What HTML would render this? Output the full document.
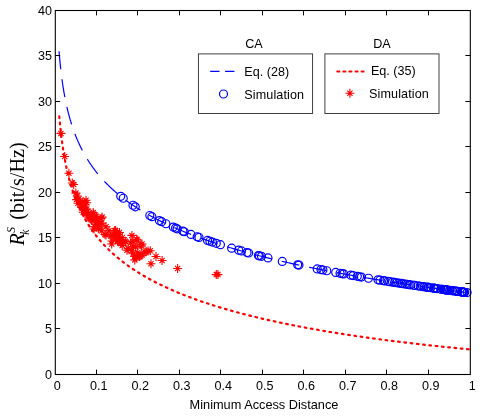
<!DOCTYPE html><html><head><meta charset="utf-8"><style>html,body{margin:0;padding:0;background:#fff}svg{display:block;will-change:transform}text{font-family:"Liberation Sans",sans-serif}</style></head><body>
<svg width="498" height="416" viewBox="0 0 498 416">
<rect width="498" height="416" fill="#fff"/>
<path d="M59.05,113.72 L59.24,115.91 L59.43,118.03 L59.61,120.09 L59.80,122.08 L59.99,124.00 L60.18,125.87 L60.36,127.68 L60.55,129.44 L60.74,131.14 L60.93,132.80 L61.11,134.42 L61.30,135.99 L61.49,137.52 L61.68,139.01 L61.87,140.46 L62.05,141.88 L62.24,143.26 L62.43,144.61 L62.62,145.93 L62.80,147.21 L62.99,148.47 L63.18,149.70 L63.37,150.91 L63.55,152.09 L63.74,153.25 L63.93,154.38 L64.12,155.49 L64.31,156.57 L64.49,157.64 L64.68,158.69 L64.87,159.71 L65.06,160.72 L65.24,161.71 L65.43,162.68 L65.62,163.64 L65.81,164.57 L65.99,165.50 L66.18,166.40 L66.37,167.30 L66.56,168.17 L66.75,169.04 L66.93,169.89 L67.12,170.72 L67.31,171.55 L67.50,172.36 L67.68,173.16 L67.87,173.95 L68.06,174.72 L68.25,175.49 L68.43,176.24 L68.62,176.99 L68.81,177.72 L69.00,178.44 L69.19,179.16 L69.37,179.86 L69.56,180.56 L69.75,181.24 L69.94,181.92 L70.12,182.59 L70.31,183.25 L70.50,183.90 L70.69,184.55 L70.87,185.18 L71.06,185.81 L71.25,186.43 L71.44,187.05 L71.63,187.66 L71.81,188.26 L72.00,188.85 L72.19,189.44 L72.38,190.02 L72.56,190.59 L72.75,191.16 L72.94,191.72 L73.13,192.28 L73.31,192.83 L73.50,193.37 L73.69,193.91 L73.88,194.45 L74.07,194.97 L74.25,195.50 L74.44,196.01 L74.63,196.53 L74.82,197.03 L75.00,197.54 L75.19,198.04 L75.38,198.53 L75.57,199.02 L75.75,199.50 L75.94,199.98 L76.13,200.46 L76.32,200.93 L76.51,201.39 L76.69,201.86 L76.88,202.31 L77.07,202.77 L77.26,203.22 L77.44,203.67 L77.63,204.11 L77.82,204.55 L78.01,204.98 L78.19,205.42 L78.38,205.84 L78.57,206.27 L78.76,206.69 L78.94,207.11 L79.13,207.52 L79.32,207.93 L79.51,208.34 L79.70,208.75 L79.88,209.15 L80.07,209.55 L80.26,209.94 L80.45,210.34 L80.63,210.73 L80.82,211.11 L81.01,211.50 L81.20,211.88 L81.38,212.26 L81.57,212.63 L81.76,213.00 L81.95,213.37 L82.14,213.74 L82.32,214.11 L82.51,214.47 L82.70,214.83 L82.89,215.19 L83.07,215.54 L83.26,215.89 L83.45,216.25 L83.64,216.59 L83.82,216.94 L84.01,217.28 L84.20,217.62 L84.39,217.96 L84.58,218.30 L84.76,218.63 L84.95,218.96 L85.14,219.29 L85.33,219.62 L85.51,219.95 L85.70,220.27 L85.89,220.59 L86.08,220.91 L86.26,221.23 L86.45,221.55 L86.64,221.86 L86.83,222.18 L87.02,222.49 L87.20,222.79 L87.39,223.10 L87.58,223.41 L87.77,223.71 L87.95,224.01 L88.14,224.31 L88.33,224.61 L88.52,224.90 L88.70,225.20 L88.89,225.49 L89.08,225.78 L89.27,226.07 L89.46,226.36 L89.64,226.65 L89.83,226.93 L90.02,227.21 L90.21,227.49 L90.39,227.77 L90.58,228.05 L90.77,228.33 L90.96,228.61 L91.14,228.88 L91.33,229.15 L91.52,229.42 L91.71,229.69 L91.90,229.96 L92.08,230.23 L92.27,230.49 L92.46,230.76 L92.65,231.02 L92.83,231.28 L93.02,231.54 L93.21,231.80 L93.40,232.06 L93.58,232.32 L93.77,232.57 L93.96,232.83 L94.15,233.08 L94.34,233.33 L94.52,233.58 L94.71,233.83 L94.90,234.08 L95.09,234.32 L95.27,234.57 L95.46,234.81 L95.65,235.06 L95.84,235.30 L96.02,235.54 L96.21,235.78 L96.40,236.02 L97.34,237.19 L98.27,238.34 L99.21,239.46 L100.14,240.56 L101.08,241.64 L102.02,242.69 L102.95,243.72 L103.89,244.74 L104.82,245.73 L105.76,246.71 L106.70,247.66 L107.63,248.60 L108.57,249.52 L109.51,250.43 L110.44,251.32 L111.38,252.19 L112.31,253.05 L113.25,253.90 L114.19,254.73 L115.12,255.55 L116.06,256.36 L116.99,257.15 L117.93,257.93 L118.87,258.70 L119.80,259.46 L120.74,260.21 L121.67,260.95 L122.61,261.67 L123.55,262.39 L124.48,263.09 L125.42,263.79 L126.35,264.48 L127.29,265.16 L128.23,265.82 L129.16,266.49 L130.10,267.14 L131.04,267.78 L131.97,268.42 L132.91,269.04 L133.84,269.66 L134.78,270.28 L135.72,270.88 L136.65,271.48 L137.59,272.07 L138.52,272.66 L139.46,273.23 L140.40,273.81 L141.33,274.37 L142.27,274.93 L143.20,275.48 L144.14,276.03 L145.08,276.57 L146.01,277.10 L146.95,277.63 L147.88,278.16 L148.82,278.67 L149.76,279.19 L150.69,279.69 L151.63,280.20 L152.57,280.69 L153.50,281.19 L154.44,281.67 L155.37,282.16 L156.31,282.64 L157.25,283.11 L158.18,283.58 L159.12,284.04 L160.05,284.50 L160.99,284.96 L161.93,285.41 L162.86,285.86 L163.80,286.30 L164.73,286.74 L165.67,287.18 L166.61,287.61 L167.54,288.04 L168.48,288.47 L169.42,288.89 L170.35,289.30 L171.29,289.72 L172.22,290.13 L173.16,290.54 L174.10,290.94 L175.03,291.34 L175.97,291.74 L176.90,292.13 L177.84,292.52 L178.78,292.91 L179.71,293.29 L180.65,293.67 L181.58,294.05 L182.52,294.43 L183.46,294.80 L184.39,295.17 L185.33,295.54 L186.26,295.90 L187.20,296.26 L188.14,296.62 L189.07,296.97 L190.01,297.33 L190.95,297.68 L191.88,298.03 L192.82,298.37 L193.75,298.71 L194.69,299.05 L195.63,299.39 L196.56,299.73 L197.50,300.06 L198.43,300.39 L199.37,300.72 L200.31,301.05 L201.24,301.37 L202.18,301.69 L203.11,302.01 L204.05,302.33 L204.99,302.64 L205.92,302.96 L206.86,303.27 L207.79,303.58 L208.73,303.88 L209.67,304.19 L210.60,304.49 L211.54,304.79 L212.48,305.09 L213.41,305.39 L214.35,305.68 L215.28,305.97 L216.22,306.27 L217.16,306.55 L218.09,306.84 L219.03,307.13 L219.96,307.41 L220.90,307.69 L221.84,307.97 L222.77,308.25 L223.71,308.53 L224.64,308.80 L225.58,309.08 L226.52,309.35 L227.45,309.62 L228.39,309.89 L229.32,310.15 L230.26,310.42 L231.20,310.68 L232.13,310.94 L233.07,311.21 L234.01,311.46 L234.94,311.72 L235.88,311.98 L236.81,312.23 L237.75,312.48 L238.69,312.74 L239.62,312.99 L240.56,313.24 L241.49,313.48 L242.43,313.73 L243.37,313.97 L244.30,314.22 L245.24,314.46 L246.17,314.70 L247.11,314.94 L248.05,315.17 L248.98,315.41 L249.92,315.65 L250.85,315.88 L251.79,316.11 L252.73,316.34 L253.66,316.57 L254.60,316.80 L255.54,317.03 L256.47,317.26 L257.41,317.48 L258.34,317.70 L259.28,317.93 L260.22,318.15 L261.15,318.37 L262.09,318.59 L263.02,318.81 L263.96,319.02 L264.90,319.24 L265.83,319.45 L266.77,319.67 L267.70,319.88 L268.64,320.09 L269.58,320.30 L270.51,320.51 L271.45,320.72 L272.38,320.93 L273.32,321.13 L274.26,321.34 L275.19,321.54 L276.13,321.74 L277.07,321.95 L278.00,322.15 L278.94,322.35 L279.87,322.54 L280.81,322.74 L281.75,322.94 L282.68,323.14 L283.62,323.33 L284.55,323.52 L285.49,323.72 L286.43,323.91 L287.36,324.10 L288.30,324.29 L289.23,324.48 L290.17,324.67 L291.11,324.86 L292.04,325.04 L292.98,325.23 L293.92,325.41 L294.85,325.60 L295.79,325.78 L296.72,325.96 L297.66,326.15 L298.60,326.33 L299.53,326.51 L300.47,326.68 L301.40,326.86 L302.34,327.04 L303.28,327.22 L304.21,327.39 L305.15,327.57 L306.08,327.74 L307.02,327.91 L307.96,328.09 L308.89,328.26 L309.83,328.43 L310.76,328.60 L311.70,328.77 L312.64,328.94 L313.57,329.11 L314.51,329.27 L315.45,329.44 L316.38,329.60 L317.32,329.77 L318.25,329.93 L319.19,330.10 L320.13,330.26 L321.06,330.42 L322.00,330.58 L322.93,330.74 L323.87,330.90 L324.81,331.06 L325.74,331.22 L326.68,331.38 L327.61,331.53 L328.55,331.69 L329.49,331.85 L330.42,332.00 L331.36,332.16 L332.29,332.31 L333.23,332.46 L334.17,332.62 L335.10,332.77 L336.04,332.92 L336.98,333.07 L337.91,333.22 L338.85,333.37 L339.78,333.52 L340.72,333.66 L341.66,333.81 L342.59,333.96 L343.53,334.10 L344.46,334.25 L345.40,334.39 L346.34,334.54 L347.27,334.68 L348.21,334.82 L349.14,334.97 L350.08,335.11 L351.02,335.25 L351.95,335.39 L352.89,335.53 L353.82,335.67 L354.76,335.81 L355.70,335.95 L356.63,336.09 L357.57,336.22 L358.51,336.36 L359.44,336.50 L360.38,336.63 L361.31,336.77 L362.25,336.90 L363.19,337.03 L364.12,337.17 L365.06,337.30 L365.99,337.43 L366.93,337.57 L367.87,337.70 L368.80,337.83 L369.74,337.96 L370.67,338.09 L371.61,338.22 L372.55,338.34 L373.48,338.47 L374.42,338.60 L375.35,338.73 L376.29,338.85 L377.23,338.98 L378.16,339.11 L379.10,339.23 L380.04,339.36 L380.97,339.48 L381.91,339.60 L382.84,339.73 L383.78,339.85 L384.72,339.97 L385.65,340.09 L386.59,340.22 L387.52,340.34 L388.46,340.46 L389.40,340.58 L390.33,340.70 L391.27,340.82 L392.20,340.93 L393.14,341.05 L394.08,341.17 L395.01,341.29 L395.95,341.40 L396.88,341.52 L397.82,341.64 L398.76,341.75 L399.69,341.87 L400.63,341.98 L401.57,342.09 L402.50,342.21 L403.44,342.32 L404.37,342.43 L405.31,342.55 L406.25,342.66 L407.18,342.77 L408.12,342.88 L409.05,342.99 L409.99,343.10 L410.93,343.21 L411.86,343.32 L412.80,343.43 L413.73,343.54 L414.67,343.65 L415.61,343.76 L416.54,343.86 L417.48,343.97 L418.42,344.08 L419.35,344.18 L420.29,344.29 L421.22,344.39 L422.16,344.50 L423.10,344.60 L424.03,344.71 L424.97,344.81 L425.90,344.92 L426.84,345.02 L427.78,345.12 L428.71,345.22 L429.65,345.33 L430.58,345.43 L431.52,345.53 L432.46,345.63 L433.39,345.73 L434.33,345.83 L435.26,345.93 L436.20,346.03 L437.14,346.13 L438.07,346.23 L439.01,346.33 L439.95,346.43 L440.88,346.52 L441.82,346.62 L442.75,346.72 L443.69,346.81 L444.63,346.91 L445.56,347.01 L446.50,347.10 L447.43,347.20 L448.37,347.29 L449.31,347.39 L450.24,347.48 L451.18,347.58 L452.11,347.67 L453.05,347.76 L453.99,347.86 L454.92,347.95 L455.86,348.04 L456.79,348.13 L457.73,348.22 L458.67,348.32 L459.60,348.41 L460.54,348.50 L461.48,348.59 L462.41,348.68 L463.35,348.77 L464.28,348.86 L465.22,348.95 L466.16,349.03 L467.09,349.12 L468.03,349.21 L468.96,349.30 L469.90,349.39" fill="none" stroke="#f00" stroke-width="2.2" stroke-linecap="round" stroke-dasharray="1.7 4.6" stroke-dashoffset="-2.7"/>
<path d="M59.05,51.22 L59.24,53.55 L59.43,55.77 L59.61,57.90 L59.80,59.95 L59.99,61.93 L60.18,63.83 L60.36,65.66 L60.55,67.43 L60.74,69.15 L60.93,70.81 L61.11,72.42 L61.30,73.98 L61.49,75.50 L61.68,76.97 L61.87,78.41 L62.05,79.80 L62.24,81.16 L62.43,82.49 L62.62,83.78 L62.80,85.04 L62.99,86.27 L63.18,87.48 L63.37,88.65 L63.55,89.80 L63.74,90.93 L63.93,92.03 L64.12,93.11 L64.31,94.17 L64.49,95.21 L64.68,96.23 L64.87,97.22 L65.06,98.20 L65.24,99.16 L65.43,100.11 L65.62,101.03 L65.81,101.95 L65.99,102.84 L66.18,103.72 L66.37,104.59 L66.56,105.44 L66.75,106.28 L66.93,107.10 L67.12,107.92 L67.31,108.72 L67.50,109.50 L67.68,110.28 L67.87,111.05 L68.06,111.80 L68.25,112.54 L68.43,113.28 L68.62,114.00 L68.81,114.71 L69.00,115.42 L69.19,116.11 L69.37,116.79 L69.56,117.47 L69.75,118.14 L69.94,118.80 L70.12,119.45 L70.31,120.09 L70.50,120.73 L70.69,121.36 L70.87,121.98 L71.06,122.59 L71.25,123.20 L71.44,123.79 L71.63,124.39 L71.81,124.97 L72.00,125.55 L72.19,126.12 L72.38,126.69 L72.56,127.25 L72.75,127.81 L72.94,128.36 L73.13,128.90 L73.31,129.44 L73.50,129.97 L73.69,130.50 L73.88,131.02 L74.07,131.53 L74.25,132.05 L74.44,132.55 L74.63,133.05 L74.82,133.55 L75.00,134.04 L75.19,134.53 L75.38,135.02 L75.57,135.49 L75.75,135.97 L75.94,136.44 L76.13,136.91 L76.32,137.37 L76.51,137.83 L76.69,138.28 L76.88,138.73 L77.07,139.18 L77.26,139.62 L77.44,140.06 L77.63,140.49 L77.82,140.92 L78.01,141.35 L78.19,141.78 L78.38,142.20 L78.57,142.62 L78.76,143.03 L78.94,143.44 L79.13,143.85 L79.32,144.25 L79.51,144.66 L79.70,145.06 L79.88,145.45 L80.07,145.84 L80.26,146.23 L80.45,146.62 L80.63,147.01 L80.82,147.39 L81.01,147.77 L81.20,148.14 L81.38,148.51 L81.57,148.89 L81.76,149.25 L81.95,149.62 L82.14,149.98 L82.32,150.34 L82.51,150.70 L82.70,151.06 L82.89,151.41 L83.07,151.76 L83.26,152.11 L83.45,152.46 L83.64,152.80 L83.82,153.14 L84.01,153.48 L84.20,153.82 L84.39,154.15 L84.58,154.49 L84.76,154.82 L84.95,155.15 L85.14,155.47 L85.33,155.80 L85.51,156.12 L85.70,156.44 L85.89,156.76 L86.08,157.08 L86.26,157.39 L86.45,157.70 L86.64,158.02 L86.83,158.33 L87.02,158.63 L87.20,158.94 L87.39,159.24 L87.58,159.55 L87.77,159.85 L87.95,160.15 L88.14,160.44 L88.33,160.74 L88.52,161.03 L88.70,161.32 L88.89,161.61 L89.08,161.90 L89.27,162.19 L89.46,162.48 L89.64,162.76 L89.83,163.04 L90.02,163.33 L90.21,163.61 L90.39,163.88 L90.58,164.16 L90.77,164.44 L90.96,164.71 L91.14,164.98 L91.33,165.25 L91.52,165.52 L91.71,165.79 L91.90,166.06 L92.08,166.32 L92.27,166.59 L92.46,166.85 L92.65,167.11 L92.83,167.37 L93.02,167.63 L93.21,167.89 L93.40,168.15 L93.58,168.40 L93.77,168.66 L93.96,168.91 L94.15,169.16 L94.34,169.41 L94.52,169.66 L94.71,169.91 L94.90,170.16 L95.09,170.40 L95.27,170.65 L95.46,170.89 L95.65,171.13 L95.84,171.37 L96.02,171.61 L96.21,171.85 L96.40,172.09 L97.34,173.26 L98.27,174.41 L99.21,175.53 L100.14,176.62 L101.08,177.70 L102.02,178.75 L102.95,179.78 L103.89,180.80 L104.82,181.79 L105.76,182.77 L106.70,183.72 L107.63,184.66 L108.57,185.59 L109.51,186.50 L110.44,187.39 L111.38,188.26 L112.31,189.13 L113.25,189.98 L114.19,190.81 L115.12,191.63 L116.06,192.44 L116.99,193.24 L117.93,194.03 L118.87,194.80 L119.80,195.56 L120.74,196.31 L121.67,197.06 L122.61,197.79 L123.55,198.51 L124.48,199.22 L125.42,199.92 L126.35,200.61 L127.29,201.29 L128.23,201.97 L129.16,202.64 L130.10,203.29 L131.04,203.94 L131.97,204.58 L132.91,205.22 L133.84,205.84 L134.78,206.46 L135.72,207.07 L136.65,207.68 L137.59,208.28 L138.52,208.87 L139.46,209.45 L140.40,210.03 L141.33,210.60 L142.27,211.17 L143.20,211.73 L144.14,212.28 L145.08,212.83 L146.01,213.37 L146.95,213.91 L147.88,214.44 L148.82,214.96 L149.76,215.48 L150.69,216.00 L151.63,216.51 L152.57,217.01 L153.50,217.51 L154.44,218.01 L155.37,218.50 L156.31,218.99 L157.25,219.47 L158.18,219.95 L159.12,220.42 L160.05,220.89 L160.99,221.36 L161.93,221.82 L162.86,222.28 L163.80,222.73 L164.73,223.18 L165.67,223.62 L166.61,224.07 L167.54,224.50 L168.48,224.94 L169.42,225.37 L170.35,225.80 L171.29,226.22 L172.22,226.64 L173.16,227.06 L174.10,227.47 L175.03,227.88 L175.97,228.29 L176.90,228.69 L177.84,229.09 L178.78,229.49 L179.71,229.89 L180.65,230.28 L181.58,230.67 L182.52,231.06 L183.46,231.44 L184.39,231.82 L185.33,232.20 L186.26,232.57 L187.20,232.95 L188.14,233.32 L189.07,233.68 L190.01,234.05 L190.95,234.41 L191.88,234.77 L192.82,235.13 L193.75,235.48 L194.69,235.84 L195.63,236.19 L196.56,236.54 L197.50,236.88 L198.43,237.22 L199.37,237.57 L200.31,237.90 L201.24,238.24 L202.18,238.58 L203.11,238.91 L204.05,239.24 L204.99,239.57 L205.92,239.89 L206.86,240.22 L207.79,240.54 L208.73,240.86 L209.67,241.18 L210.60,241.50 L211.54,241.81 L212.48,242.12 L213.41,242.43 L214.35,242.74 L215.28,243.05 L216.22,243.36 L217.16,243.66 L218.09,243.96 L219.03,244.26 L219.96,244.56 L220.90,244.86 L221.84,245.15 L222.77,245.45 L223.71,245.74 L224.64,246.03 L225.58,246.32 L226.52,246.60 L227.45,246.89 L228.39,247.17 L229.32,247.46 L230.26,247.74 L231.20,248.02 L232.13,248.29 L233.07,248.57 L234.01,248.85 L234.94,249.12 L235.88,249.39 L236.81,249.66 L237.75,249.93 L238.69,250.20 L239.62,250.47 L240.56,250.73 L241.49,251.00 L242.43,251.26 L243.37,251.52 L244.30,251.78 L245.24,252.04 L246.17,252.30 L247.11,252.55 L248.05,252.81 L248.98,253.06 L249.92,253.31 L250.85,253.57 L251.79,253.82 L252.73,254.06 L253.66,254.31 L254.60,254.56 L255.54,254.80 L256.47,255.05 L257.41,255.29 L258.34,255.53 L259.28,255.78 L260.22,256.02 L261.15,256.25 L262.09,256.49 L263.02,256.73 L263.96,256.96 L264.90,257.20 L265.83,257.43 L266.77,257.66 L267.70,257.90 L268.64,258.13 L269.58,258.36 L270.51,258.58 L271.45,258.81 L272.38,259.04 L273.32,259.26 L274.26,259.49 L275.19,259.71 L276.13,259.93 L277.07,260.16 L278.00,260.38 L278.94,260.60 L279.87,260.81 L280.81,261.03 L281.75,261.25 L282.68,261.47 L283.62,261.68 L284.55,261.90 L285.49,262.11 L286.43,262.32 L287.36,262.53 L288.30,262.74 L289.23,262.95 L290.17,263.16 L291.11,263.37 L292.04,263.58 L292.98,263.79 L293.92,263.99 L294.85,264.20 L295.79,264.40 L296.72,264.61 L297.66,264.81 L298.60,265.01 L299.53,265.21 L300.47,265.41 L301.40,265.61 L302.34,265.81 L303.28,266.01 L304.21,266.21 L305.15,266.40 L306.08,266.60 L307.02,266.79 L307.96,266.99 L308.89,267.18 L309.83,267.38 L310.76,267.57 L311.70,267.76 L312.64,267.95 L313.57,268.14 L314.51,268.33 L315.45,268.52 L316.38,268.71 L317.32,268.90 L318.25,269.08 L319.19,269.27 L320.13,269.45 L321.06,269.64 L322.00,269.82 L322.93,270.01 L323.87,270.19 L324.81,270.37 L325.74,270.55 L326.68,270.74 L327.61,270.92 L328.55,271.10 L329.49,271.28 L330.42,271.45 L331.36,271.63 L332.29,271.81 L333.23,271.99 L334.17,272.16 L335.10,272.34 L336.04,272.51 L336.98,272.69 L337.91,272.86 L338.85,273.03 L339.78,273.21 L340.72,273.38 L341.66,273.55 L342.59,273.72 L343.53,273.89 L344.46,274.06 L345.40,274.23 L346.34,274.40 L347.27,274.57 L348.21,274.74 L349.14,274.90 L350.08,275.07 L351.02,275.24 L351.95,275.40 L352.89,275.57 L353.82,275.73 L354.76,275.90 L355.70,276.06 L356.63,276.22 L357.57,276.39 L358.51,276.55 L359.44,276.71 L360.38,276.87 L361.31,277.03 L362.25,277.19 L363.19,277.35 L364.12,277.51 L365.06,277.67 L365.99,277.83 L366.93,277.99 L367.87,278.14 L368.80,278.30 L369.74,278.46 L370.67,278.61 L371.61,278.77 L372.55,278.92 L373.48,279.08 L374.42,279.23 L375.35,279.38 L376.29,279.54 L377.23,279.69 L378.16,279.84 L379.10,279.99 L380.04,280.14 L380.97,280.30 L381.91,280.45 L382.84,280.60 L383.78,280.75 L384.72,280.90 L385.65,281.04 L386.59,281.19 L387.52,281.34 L388.46,281.49 L389.40,281.63 L390.33,281.78 L391.27,281.93 L392.20,282.07 L393.14,282.22 L394.08,282.36 L395.01,282.51 L395.95,282.65 L396.88,282.80 L397.82,282.94 L398.76,283.08 L399.69,283.23 L400.63,283.37 L401.57,283.51 L402.50,283.65 L403.44,283.79 L404.37,283.93 L405.31,284.07 L406.25,284.21 L407.18,284.35 L408.12,284.49 L409.05,284.63 L409.99,284.77 L410.93,284.91 L411.86,285.05 L412.80,285.18 L413.73,285.32 L414.67,285.46 L415.61,285.59 L416.54,285.73 L417.48,285.87 L418.42,286.00 L419.35,286.14 L420.29,286.27 L421.22,286.41 L422.16,286.54 L423.10,286.67 L424.03,286.81 L424.97,286.94 L425.90,287.07 L426.84,287.20 L427.78,287.34 L428.71,287.47 L429.65,287.60 L430.58,287.73 L431.52,287.86 L432.46,287.99 L433.39,288.12 L434.33,288.25 L435.26,288.38 L436.20,288.51 L437.14,288.64 L438.07,288.77 L439.01,288.89 L439.95,289.02 L440.88,289.15 L441.82,289.28 L442.75,289.40 L443.69,289.53 L444.63,289.66 L445.56,289.78 L446.50,289.91 L447.43,290.03 L448.37,290.16 L449.31,290.28 L450.24,290.41 L451.18,290.53 L452.11,290.66 L453.05,290.78 L453.99,290.90 L454.92,291.03 L455.86,291.15 L456.79,291.27 L457.73,291.39 L458.67,291.51 L459.60,291.64 L460.54,291.76 L461.48,291.88 L462.41,292.00 L463.35,292.12 L464.28,292.24 L465.22,292.36 L466.16,292.48 L467.09,292.60 L468.03,292.72 L468.96,292.84 L469.90,292.95" fill="none" stroke="#00f" stroke-width="1.2" stroke-dasharray="18.1 10.04"/>
<circle cx="120.73" cy="196.31" r="4" fill="none" stroke="#00f" stroke-width="1.2"/>
<circle cx="123.23" cy="198.26" r="4" fill="none" stroke="#00f" stroke-width="1.2"/>
<circle cx="132.99" cy="205.27" r="4" fill="none" stroke="#00f" stroke-width="1.2"/>
<circle cx="135.27" cy="206.78" r="4" fill="none" stroke="#00f" stroke-width="1.2"/>
<circle cx="149.81" cy="215.51" r="4" fill="none" stroke="#00f" stroke-width="1.2"/>
<circle cx="151.89" cy="216.65" r="4" fill="none" stroke="#00f" stroke-width="1.2"/>
<circle cx="159.37" cy="220.55" r="4" fill="none" stroke="#00f" stroke-width="1.2"/>
<circle cx="161.69" cy="221.70" r="4" fill="none" stroke="#00f" stroke-width="1.2"/>
<circle cx="165.89" cy="223.73" r="4" fill="none" stroke="#00f" stroke-width="1.2"/>
<circle cx="173.28" cy="227.11" r="4" fill="none" stroke="#00f" stroke-width="1.2"/>
<circle cx="175.57" cy="228.12" r="4" fill="none" stroke="#00f" stroke-width="1.2"/>
<circle cx="177.10" cy="228.78" r="4" fill="none" stroke="#00f" stroke-width="1.2"/>
<circle cx="182.92" cy="231.22" r="4" fill="none" stroke="#00f" stroke-width="1.2"/>
<circle cx="184.21" cy="231.75" r="4" fill="none" stroke="#00f" stroke-width="1.2"/>
<circle cx="190.94" cy="234.41" r="4" fill="none" stroke="#00f" stroke-width="1.2"/>
<circle cx="197.17" cy="236.76" r="4" fill="none" stroke="#00f" stroke-width="1.2"/>
<circle cx="198.99" cy="237.43" r="4" fill="none" stroke="#00f" stroke-width="1.2"/>
<circle cx="207.55" cy="240.46" r="4" fill="none" stroke="#00f" stroke-width="1.2"/>
<circle cx="209.92" cy="241.27" r="4" fill="none" stroke="#00f" stroke-width="1.2"/>
<circle cx="212.41" cy="242.10" r="4" fill="none" stroke="#00f" stroke-width="1.2"/>
<circle cx="216.28" cy="243.37" r="4" fill="none" stroke="#00f" stroke-width="1.2"/>
<circle cx="220.43" cy="244.71" r="4" fill="none" stroke="#00f" stroke-width="1.2"/>
<circle cx="231.64" cy="248.15" r="4" fill="none" stroke="#00f" stroke-width="1.2"/>
<circle cx="238.71" cy="250.21" r="4" fill="none" stroke="#00f" stroke-width="1.2"/>
<circle cx="241.41" cy="250.97" r="4" fill="none" stroke="#00f" stroke-width="1.2"/>
<circle cx="247.01" cy="252.53" r="4" fill="none" stroke="#00f" stroke-width="1.2"/>
<circle cx="248.68" cy="252.98" r="4" fill="none" stroke="#00f" stroke-width="1.2"/>
<circle cx="258.40" cy="255.55" r="4" fill="none" stroke="#00f" stroke-width="1.2"/>
<circle cx="259.31" cy="255.78" r="4" fill="none" stroke="#00f" stroke-width="1.2"/>
<circle cx="261.51" cy="256.35" r="4" fill="none" stroke="#00f" stroke-width="1.2"/>
<circle cx="267.99" cy="257.97" r="4" fill="none" stroke="#00f" stroke-width="1.2"/>
<circle cx="282.32" cy="261.38" r="4" fill="none" stroke="#00f" stroke-width="1.2"/>
<circle cx="297.69" cy="264.82" r="4" fill="none" stroke="#00f" stroke-width="1.2"/>
<circle cx="298.94" cy="265.08" r="4" fill="none" stroke="#00f" stroke-width="1.2"/>
<circle cx="317.22" cy="268.88" r="4" fill="none" stroke="#00f" stroke-width="1.2"/>
<circle cx="320.96" cy="269.62" r="4" fill="none" stroke="#00f" stroke-width="1.2"/>
<circle cx="322.91" cy="270.00" r="4" fill="none" stroke="#00f" stroke-width="1.2"/>
<circle cx="326.77" cy="270.75" r="4" fill="none" stroke="#00f" stroke-width="1.2"/>
<circle cx="335.70" cy="272.45" r="4" fill="none" stroke="#00f" stroke-width="1.2"/>
<circle cx="340.06" cy="273.26" r="4" fill="none" stroke="#00f" stroke-width="1.2"/>
<circle cx="342.14" cy="273.64" r="4" fill="none" stroke="#00f" stroke-width="1.2"/>
<circle cx="343.80" cy="273.94" r="4" fill="none" stroke="#00f" stroke-width="1.2"/>
<circle cx="350.86" cy="275.21" r="4" fill="none" stroke="#00f" stroke-width="1.2"/>
<circle cx="353.11" cy="275.61" r="4" fill="none" stroke="#00f" stroke-width="1.2"/>
<circle cx="357.30" cy="276.34" r="4" fill="none" stroke="#00f" stroke-width="1.2"/>
<circle cx="359.59" cy="276.74" r="4" fill="none" stroke="#00f" stroke-width="1.2"/>
<circle cx="361.42" cy="277.05" r="4" fill="none" stroke="#00f" stroke-width="1.2"/>
<circle cx="368.52" cy="278.25" r="4" fill="none" stroke="#00f" stroke-width="1.2"/>
<circle cx="378.00" cy="279.82" r="4" fill="none" stroke="#00f" stroke-width="1.2"/>
<circle cx="380.00" cy="280.14" r="4" fill="none" stroke="#00f" stroke-width="1.2"/>
<circle cx="383.50" cy="280.70" r="4" fill="none" stroke="#00f" stroke-width="1.2"/>
<circle cx="384.50" cy="280.86" r="4" fill="none" stroke="#00f" stroke-width="1.2"/>
<circle cx="388.00" cy="281.42" r="4" fill="none" stroke="#00f" stroke-width="1.2"/>
<circle cx="389.60" cy="281.67" r="4" fill="none" stroke="#00f" stroke-width="1.2"/>
<circle cx="392.60" cy="282.14" r="4" fill="none" stroke="#00f" stroke-width="1.2"/>
<circle cx="394.60" cy="282.45" r="4" fill="none" stroke="#00f" stroke-width="1.2"/>
<circle cx="396.60" cy="282.75" r="4" fill="none" stroke="#00f" stroke-width="1.2"/>
<circle cx="398.60" cy="283.06" r="4" fill="none" stroke="#00f" stroke-width="1.2"/>
<circle cx="401.10" cy="283.44" r="4" fill="none" stroke="#00f" stroke-width="1.2"/>
<circle cx="402.60" cy="283.67" r="4" fill="none" stroke="#00f" stroke-width="1.2"/>
<circle cx="405.10" cy="284.04" r="4" fill="none" stroke="#00f" stroke-width="1.2"/>
<circle cx="407.10" cy="284.34" r="4" fill="none" stroke="#00f" stroke-width="1.2"/>
<circle cx="409.10" cy="284.64" r="4" fill="none" stroke="#00f" stroke-width="1.2"/>
<circle cx="410.60" cy="284.86" r="4" fill="none" stroke="#00f" stroke-width="1.2"/>
<circle cx="413.70" cy="285.32" r="4" fill="none" stroke="#00f" stroke-width="1.2"/>
<circle cx="414.70" cy="285.46" r="4" fill="none" stroke="#00f" stroke-width="1.2"/>
<circle cx="418.20" cy="285.97" r="4" fill="none" stroke="#00f" stroke-width="1.2"/>
<circle cx="420.20" cy="286.26" r="4" fill="none" stroke="#00f" stroke-width="1.2"/>
<circle cx="422.70" cy="286.62" r="4" fill="none" stroke="#00f" stroke-width="1.2"/>
<circle cx="424.20" cy="286.83" r="4" fill="none" stroke="#00f" stroke-width="1.2"/>
<circle cx="426.50" cy="287.16" r="4" fill="none" stroke="#00f" stroke-width="1.2"/>
<circle cx="428.14" cy="287.39" r="4" fill="none" stroke="#00f" stroke-width="1.2"/>
<circle cx="428.38" cy="287.42" r="4" fill="none" stroke="#00f" stroke-width="1.2"/>
<circle cx="428.55" cy="287.45" r="4" fill="none" stroke="#00f" stroke-width="1.2"/>
<circle cx="430.83" cy="287.76" r="4" fill="none" stroke="#00f" stroke-width="1.2"/>
<circle cx="433.69" cy="288.16" r="4" fill="none" stroke="#00f" stroke-width="1.2"/>
<circle cx="434.04" cy="288.21" r="4" fill="none" stroke="#00f" stroke-width="1.2"/>
<circle cx="434.71" cy="288.30" r="4" fill="none" stroke="#00f" stroke-width="1.2"/>
<circle cx="436.24" cy="288.51" r="4" fill="none" stroke="#00f" stroke-width="1.2"/>
<circle cx="437.03" cy="288.62" r="4" fill="none" stroke="#00f" stroke-width="1.2"/>
<circle cx="440.74" cy="289.13" r="4" fill="none" stroke="#00f" stroke-width="1.2"/>
<circle cx="443.04" cy="289.44" r="4" fill="none" stroke="#00f" stroke-width="1.2"/>
<circle cx="443.58" cy="289.52" r="4" fill="none" stroke="#00f" stroke-width="1.2"/>
<circle cx="444.21" cy="289.60" r="4" fill="none" stroke="#00f" stroke-width="1.2"/>
<circle cx="445.13" cy="289.72" r="4" fill="none" stroke="#00f" stroke-width="1.2"/>
<circle cx="445.50" cy="289.77" r="4" fill="none" stroke="#00f" stroke-width="1.2"/>
<circle cx="445.54" cy="289.78" r="4" fill="none" stroke="#00f" stroke-width="1.2"/>
<circle cx="446.44" cy="289.90" r="4" fill="none" stroke="#00f" stroke-width="1.2"/>
<circle cx="447.04" cy="289.98" r="4" fill="none" stroke="#00f" stroke-width="1.2"/>
<circle cx="447.44" cy="290.03" r="4" fill="none" stroke="#00f" stroke-width="1.2"/>
<circle cx="449.52" cy="290.31" r="4" fill="none" stroke="#00f" stroke-width="1.2"/>
<circle cx="452.26" cy="290.67" r="4" fill="none" stroke="#00f" stroke-width="1.2"/>
<circle cx="452.67" cy="290.73" r="4" fill="none" stroke="#00f" stroke-width="1.2"/>
<circle cx="454.44" cy="290.96" r="4" fill="none" stroke="#00f" stroke-width="1.2"/>
<circle cx="455.52" cy="291.10" r="4" fill="none" stroke="#00f" stroke-width="1.2"/>
<circle cx="456.70" cy="291.26" r="4" fill="none" stroke="#00f" stroke-width="1.2"/>
<circle cx="457.65" cy="291.38" r="4" fill="none" stroke="#00f" stroke-width="1.2"/>
<circle cx="461.87" cy="291.93" r="4" fill="none" stroke="#00f" stroke-width="1.2"/>
<circle cx="461.88" cy="291.93" r="4" fill="none" stroke="#00f" stroke-width="1.2"/>
<circle cx="462.75" cy="292.04" r="4" fill="none" stroke="#00f" stroke-width="1.2"/>
<circle cx="463.51" cy="292.14" r="4" fill="none" stroke="#00f" stroke-width="1.2"/>
<circle cx="464.62" cy="292.28" r="4" fill="none" stroke="#00f" stroke-width="1.2"/>
<circle cx="467.10" cy="292.60" r="4" fill="none" stroke="#00f" stroke-width="1.2"/>
<circle cx="464.20" cy="292.23" r="4" fill="none" stroke="#00f" stroke-width="1.2"/>
<circle cx="461.60" cy="291.89" r="4" fill="none" stroke="#00f" stroke-width="1.2"/>
<path d="M56.40,133.40H65.40M60.90,128.90V137.90M58.30,130.80L63.50,136.00M58.30,136.00L63.50,130.80" stroke="#f00" stroke-width="1.1" fill="none"/><rect x="59.70" y="132.20" width="2.4" height="2.4" fill="#f00"/>
<path d="M60.20,156.50H69.20M64.70,152.00V161.00M62.10,153.90L67.30,159.10M62.10,159.10L67.30,153.90" stroke="#f00" stroke-width="1.1" fill="none"/><rect x="63.50" y="155.30" width="2.4" height="2.4" fill="#f00"/>
<path d="M64.40,173.30H73.40M68.90,168.80V177.80M66.30,170.70L71.50,175.90M66.30,175.90L71.50,170.70" stroke="#f00" stroke-width="1.1" fill="none"/><rect x="67.70" y="172.10" width="2.4" height="2.4" fill="#f00"/>
<path d="M67.80,183.00H76.80M72.30,178.50V187.50M69.70,180.40L74.90,185.60M69.70,185.60L74.90,180.40" stroke="#f00" stroke-width="1.1" fill="none"/><rect x="71.10" y="181.80" width="2.4" height="2.4" fill="#f00"/>
<path d="M69.20,184.50H78.20M73.70,180.00V189.00M71.10,181.90L76.30,187.10M71.10,187.10L76.30,181.90" stroke="#f00" stroke-width="1.1" fill="none"/><rect x="72.50" y="183.30" width="2.4" height="2.4" fill="#f00"/>
<path d="M71.40,193.10H80.40M75.90,188.60V197.60M73.30,190.50L78.50,195.70M73.30,195.70L78.50,190.50" stroke="#f00" stroke-width="1.1" fill="none"/><rect x="74.70" y="191.90" width="2.4" height="2.4" fill="#f00"/>
<path d="M72.80,196.00H81.80M77.30,191.50V200.50M74.70,193.40L79.90,198.60M74.70,198.60L79.90,193.40" stroke="#f00" stroke-width="1.1" fill="none"/><rect x="76.10" y="194.80" width="2.4" height="2.4" fill="#f00"/>
<path d="M72.10,199.60H81.10M76.60,195.10V204.10M74.00,197.00L79.20,202.20M74.00,202.20L79.20,197.00" stroke="#f00" stroke-width="1.1" fill="none"/><rect x="75.40" y="198.40" width="2.4" height="2.4" fill="#f00"/>
<path d="M74.30,198.90H83.30M78.80,194.40V203.40M76.20,196.30L81.40,201.50M76.20,201.50L81.40,196.30" stroke="#f00" stroke-width="1.1" fill="none"/><rect x="77.60" y="197.70" width="2.4" height="2.4" fill="#f00"/>
<path d="M75.70,203.20H84.70M80.20,198.70V207.70M77.60,200.60L82.80,205.80M77.60,205.80L82.80,200.60" stroke="#f00" stroke-width="1.1" fill="none"/><rect x="79.00" y="202.00" width="2.4" height="2.4" fill="#f00"/>
<path d="M73.50,203.20H82.50M78.00,198.70V207.70M75.40,200.60L80.60,205.80M75.40,205.80L80.60,200.60" stroke="#f00" stroke-width="1.1" fill="none"/><rect x="76.80" y="202.00" width="2.4" height="2.4" fill="#f00"/>
<path d="M77.10,206.80H86.10M81.60,202.30V211.30M79.00,204.20L84.20,209.40M79.00,209.40L84.20,204.20" stroke="#f00" stroke-width="1.1" fill="none"/><rect x="80.40" y="205.60" width="2.4" height="2.4" fill="#f00"/>
<path d="M81.50,200.30H90.50M86.00,195.80V204.80M83.40,197.70L88.60,202.90M83.40,202.90L88.60,197.70" stroke="#f00" stroke-width="1.1" fill="none"/><rect x="84.80" y="199.10" width="2.4" height="2.4" fill="#f00"/>
<path d="M80.70,204.70H89.70M85.20,200.20V209.20M82.60,202.10L87.80,207.30M82.60,207.30L87.80,202.10" stroke="#f00" stroke-width="1.1" fill="none"/><rect x="84.00" y="203.50" width="2.4" height="2.4" fill="#f00"/>
<path d="M79.30,209.70H88.30M83.80,205.20V214.20M81.20,207.10L86.40,212.30M81.20,212.30L86.40,207.10" stroke="#f00" stroke-width="1.1" fill="none"/><rect x="82.60" y="208.50" width="2.4" height="2.4" fill="#f00"/>
<path d="M82.20,209.00H91.20M86.70,204.50V213.50M84.10,206.40L89.30,211.60M84.10,211.60L89.30,206.40" stroke="#f00" stroke-width="1.1" fill="none"/><rect x="85.50" y="207.80" width="2.4" height="2.4" fill="#f00"/>
<path d="M81.50,214.00H90.50M86.00,209.50V218.50M83.40,211.40L88.60,216.60M83.40,216.60L88.60,211.40" stroke="#f00" stroke-width="1.1" fill="none"/><rect x="84.80" y="212.80" width="2.4" height="2.4" fill="#f00"/>
<path d="M84.30,214.80H93.30M88.80,210.30V219.30M86.20,212.20L91.40,217.40M86.20,217.40L91.40,212.20" stroke="#f00" stroke-width="1.1" fill="none"/><rect x="87.60" y="213.60" width="2.4" height="2.4" fill="#f00"/>
<path d="M88.70,212.60H97.70M93.20,208.10V217.10M90.60,210.00L95.80,215.20M90.60,215.20L95.80,210.00" stroke="#f00" stroke-width="1.1" fill="none"/><rect x="92.00" y="211.40" width="2.4" height="2.4" fill="#f00"/>
<path d="M90.10,216.20H99.10M94.60,211.70V220.70M92.00,213.60L97.20,218.80M92.00,218.80L97.20,213.60" stroke="#f00" stroke-width="1.1" fill="none"/><rect x="93.40" y="215.00" width="2.4" height="2.4" fill="#f00"/>
<path d="M86.50,219.10H95.50M91.00,214.60V223.60M88.40,216.50L93.60,221.70M88.40,221.70L93.60,216.50" stroke="#f00" stroke-width="1.1" fill="none"/><rect x="89.80" y="217.90" width="2.4" height="2.4" fill="#f00"/>
<path d="M92.30,219.80H101.30M96.80,215.30V224.30M94.20,217.20L99.40,222.40M94.20,222.40L99.40,217.20" stroke="#f00" stroke-width="1.1" fill="none"/><rect x="95.60" y="218.60" width="2.4" height="2.4" fill="#f00"/>
<path d="M96.60,218.40H105.60M101.10,213.90V222.90M98.50,215.80L103.70,221.00M98.50,221.00L103.70,215.80" stroke="#f00" stroke-width="1.1" fill="none"/><rect x="99.90" y="217.20" width="2.4" height="2.4" fill="#f00"/>
<path d="M78.40,201.70H87.40M82.90,197.20V206.20M80.30,199.10L85.50,204.30M80.30,204.30L85.50,199.10" stroke="#f00" stroke-width="1.1" fill="none"/><rect x="81.70" y="200.50" width="2.4" height="2.4" fill="#f00"/>
<path d="M82.20,202.70H91.20M86.70,198.20V207.20M84.10,200.10L89.30,205.30M84.10,205.30L89.30,200.10" stroke="#f00" stroke-width="1.1" fill="none"/><rect x="85.50" y="201.50" width="2.4" height="2.4" fill="#f00"/>
<path d="M77.40,207.50H86.40M81.90,203.00V212.00M79.30,204.90L84.50,210.10M79.30,210.10L84.50,204.90" stroke="#f00" stroke-width="1.1" fill="none"/><rect x="80.70" y="206.30" width="2.4" height="2.4" fill="#f00"/>
<path d="M81.30,209.40H90.30M85.80,204.90V213.90M83.20,206.80L88.40,212.00M83.20,212.00L88.40,206.80" stroke="#f00" stroke-width="1.1" fill="none"/><rect x="84.60" y="208.20" width="2.4" height="2.4" fill="#f00"/>
<path d="M84.20,213.30H93.20M88.70,208.80V217.80M86.10,210.70L91.30,215.90M86.10,215.90L91.30,210.70" stroke="#f00" stroke-width="1.1" fill="none"/><rect x="87.50" y="212.10" width="2.4" height="2.4" fill="#f00"/>
<path d="M89.00,214.20H98.00M93.50,209.70V218.70M90.90,211.60L96.10,216.80M90.90,216.80L96.10,211.60" stroke="#f00" stroke-width="1.1" fill="none"/><rect x="92.30" y="213.00" width="2.4" height="2.4" fill="#f00"/>
<path d="M91.80,216.20H100.80M96.30,211.70V220.70M93.70,213.60L98.90,218.80M93.70,218.80L98.90,213.60" stroke="#f00" stroke-width="1.1" fill="none"/><rect x="95.10" y="215.00" width="2.4" height="2.4" fill="#f00"/>
<path d="M97.60,217.10H106.60M102.10,212.60V221.60M99.50,214.50L104.70,219.70M99.50,219.70L104.70,214.50" stroke="#f00" stroke-width="1.1" fill="none"/><rect x="100.90" y="215.90" width="2.4" height="2.4" fill="#f00"/>
<path d="M87.00,220.00H96.00M91.50,215.50V224.50M88.90,217.40L94.10,222.60M88.90,222.60L94.10,217.40" stroke="#f00" stroke-width="1.1" fill="none"/><rect x="90.30" y="218.80" width="2.4" height="2.4" fill="#f00"/>
<path d="M92.80,221.90H101.80M97.30,217.40V226.40M94.70,219.30L99.90,224.50M94.70,224.50L99.90,219.30" stroke="#f00" stroke-width="1.1" fill="none"/><rect x="96.10" y="220.70" width="2.4" height="2.4" fill="#f00"/>
<path d="M96.70,223.80H105.70M101.20,219.30V228.30M98.60,221.20L103.80,226.40M98.60,226.40L103.80,221.20" stroke="#f00" stroke-width="1.1" fill="none"/><rect x="100.00" y="222.60" width="2.4" height="2.4" fill="#f00"/>
<path d="M89.90,226.70H98.90M94.40,222.20V231.20M91.80,224.10L97.00,229.30M91.80,229.30L97.00,224.10" stroke="#f00" stroke-width="1.1" fill="none"/><rect x="93.20" y="225.50" width="2.4" height="2.4" fill="#f00"/>
<path d="M93.80,228.70H102.80M98.30,224.20V233.20M95.70,226.10L100.90,231.30M95.70,231.30L100.90,226.10" stroke="#f00" stroke-width="1.1" fill="none"/><rect x="97.10" y="227.50" width="2.4" height="2.4" fill="#f00"/>
<path d="M101.50,226.70H110.50M106.00,222.20V231.20M103.40,224.10L108.60,229.30M103.40,229.30L108.60,224.10" stroke="#f00" stroke-width="1.1" fill="none"/><rect x="104.80" y="225.50" width="2.4" height="2.4" fill="#f00"/>
<path d="M100.50,234.40H109.50M105.00,229.90V238.90M102.40,231.80L107.60,237.00M102.40,237.00L107.60,231.80" stroke="#f00" stroke-width="1.1" fill="none"/><rect x="103.80" y="233.20" width="2.4" height="2.4" fill="#f00"/>
<path d="M106.30,236.30H115.30M110.80,231.80V240.80M108.20,233.70L113.40,238.90M108.20,238.90L113.40,233.70" stroke="#f00" stroke-width="1.1" fill="none"/><rect x="109.60" y="235.10" width="2.4" height="2.4" fill="#f00"/>
<path d="M111.10,230.60H120.10M115.60,226.10V235.10M113.00,228.00L118.20,233.20M113.00,233.20L118.20,228.00" stroke="#f00" stroke-width="1.1" fill="none"/><rect x="114.40" y="229.40" width="2.4" height="2.4" fill="#f00"/>
<path d="M114.90,232.50H123.90M119.40,228.00V237.00M116.80,229.90L122.00,235.10M116.80,235.10L122.00,229.90" stroke="#f00" stroke-width="1.1" fill="none"/><rect x="118.20" y="231.30" width="2.4" height="2.4" fill="#f00"/>
<path d="M110.10,236.30H119.10M114.60,231.80V240.80M112.00,233.70L117.20,238.90M112.00,238.90L117.20,233.70" stroke="#f00" stroke-width="1.1" fill="none"/><rect x="113.40" y="235.10" width="2.4" height="2.4" fill="#f00"/>
<path d="M113.00,241.20H122.00M117.50,236.70V245.70M114.90,238.60L120.10,243.80M114.90,243.80L120.10,238.60" stroke="#f00" stroke-width="1.1" fill="none"/><rect x="116.30" y="240.00" width="2.4" height="2.4" fill="#f00"/>
<path d="M107.20,244.00H116.20M111.70,239.50V248.50M109.10,241.40L114.30,246.60M109.10,246.60L114.30,241.40" stroke="#f00" stroke-width="1.1" fill="none"/><rect x="110.50" y="242.80" width="2.4" height="2.4" fill="#f00"/>
<path d="M116.80,242.10H125.80M121.30,237.60V246.60M118.70,239.50L123.90,244.70M118.70,244.70L123.90,239.50" stroke="#f00" stroke-width="1.1" fill="none"/><rect x="120.10" y="240.90" width="2.4" height="2.4" fill="#f00"/>
<path d="M120.70,241.20H129.70M125.20,236.70V245.70M122.60,238.60L127.80,243.80M122.60,243.80L127.80,238.60" stroke="#f00" stroke-width="1.1" fill="none"/><rect x="124.00" y="240.00" width="2.4" height="2.4" fill="#f00"/>
<path d="M127.40,235.40H136.40M131.90,230.90V239.90M129.30,232.80L134.50,238.00M129.30,238.00L134.50,232.80" stroke="#f00" stroke-width="1.1" fill="none"/><rect x="130.70" y="234.20" width="2.4" height="2.4" fill="#f00"/>
<path d="M128.40,241.20H137.40M132.90,236.70V245.70M130.30,238.60L135.50,243.80M130.30,243.80L135.50,238.60" stroke="#f00" stroke-width="1.1" fill="none"/><rect x="131.70" y="240.00" width="2.4" height="2.4" fill="#f00"/>
<path d="M132.20,239.20H141.20M136.70,234.70V243.70M134.10,236.60L139.30,241.80M134.10,241.80L139.30,236.60" stroke="#f00" stroke-width="1.1" fill="none"/><rect x="135.50" y="238.00" width="2.4" height="2.4" fill="#f00"/>
<path d="M123.60,248.80H132.60M128.10,244.30V253.30M125.50,246.20L130.70,251.40M125.50,251.40L130.70,246.20" stroke="#f00" stroke-width="1.1" fill="none"/><rect x="126.90" y="247.60" width="2.4" height="2.4" fill="#f00"/>
<path d="M127.40,250.80H136.40M131.90,246.30V255.30M129.30,248.20L134.50,253.40M129.30,253.40L134.50,248.20" stroke="#f00" stroke-width="1.1" fill="none"/><rect x="130.70" y="249.60" width="2.4" height="2.4" fill="#f00"/>
<path d="M131.30,246.90H140.30M135.80,242.40V251.40M133.20,244.30L138.40,249.50M133.20,249.50L138.40,244.30" stroke="#f00" stroke-width="1.1" fill="none"/><rect x="134.60" y="245.70" width="2.4" height="2.4" fill="#f00"/>
<path d="M133.20,252.70H142.20M137.70,248.20V257.20M135.10,250.10L140.30,255.30M135.10,255.30L140.30,250.10" stroke="#f00" stroke-width="1.1" fill="none"/><rect x="136.50" y="251.50" width="2.4" height="2.4" fill="#f00"/>
<path d="M137.00,246.00H146.00M141.50,241.50V250.50M138.90,243.40L144.10,248.60M138.90,248.60L144.10,243.40" stroke="#f00" stroke-width="1.1" fill="none"/><rect x="140.30" y="244.80" width="2.4" height="2.4" fill="#f00"/>
<path d="M130.30,256.50H139.30M134.80,252.00V261.00M132.20,253.90L137.40,259.10M132.20,259.10L137.40,253.90" stroke="#f00" stroke-width="1.1" fill="none"/><rect x="133.60" y="255.30" width="2.4" height="2.4" fill="#f00"/>
<path d="M135.10,256.50H144.10M139.60,252.00V261.00M137.00,253.90L142.20,259.10M137.00,259.10L142.20,253.90" stroke="#f00" stroke-width="1.1" fill="none"/><rect x="138.40" y="255.30" width="2.4" height="2.4" fill="#f00"/>
<path d="M141.80,251.70H150.80M146.30,247.20V256.20M143.70,249.10L148.90,254.30M143.70,254.30L148.90,249.10" stroke="#f00" stroke-width="1.1" fill="none"/><rect x="145.10" y="250.50" width="2.4" height="2.4" fill="#f00"/>
<path d="M145.70,250.80H154.70M150.20,246.30V255.30M147.60,248.20L152.80,253.40M147.60,253.40L152.80,248.20" stroke="#f00" stroke-width="1.1" fill="none"/><rect x="149.00" y="249.60" width="2.4" height="2.4" fill="#f00"/>
<path d="M151.50,256.50H160.50M156.00,252.00V261.00M153.40,253.90L158.60,259.10M153.40,259.10L158.60,253.90" stroke="#f00" stroke-width="1.1" fill="none"/><rect x="154.80" y="255.30" width="2.4" height="2.4" fill="#f00"/>
<path d="M97.30,230.80H106.30M101.80,226.30V235.30M99.20,228.20L104.40,233.40M99.20,233.40L104.40,228.20" stroke="#f00" stroke-width="1.1" fill="none"/><rect x="100.60" y="229.60" width="2.4" height="2.4" fill="#f00"/>
<path d="M101.50,235.00H110.50M106.00,230.50V239.50M103.40,232.40L108.60,237.60M103.40,237.60L108.60,232.40" stroke="#f00" stroke-width="1.1" fill="none"/><rect x="104.80" y="233.80" width="2.4" height="2.4" fill="#f00"/>
<path d="M104.50,230.80H113.50M109.00,226.30V235.30M106.40,228.20L111.60,233.40M106.40,233.40L111.60,228.20" stroke="#f00" stroke-width="1.1" fill="none"/><rect x="107.80" y="229.60" width="2.4" height="2.4" fill="#f00"/>
<path d="M107.50,235.00H116.50M112.00,230.50V239.50M109.40,232.40L114.60,237.60M109.40,237.60L114.60,232.40" stroke="#f00" stroke-width="1.1" fill="none"/><rect x="110.80" y="233.80" width="2.4" height="2.4" fill="#f00"/>
<path d="M110.00,230.80H119.00M114.50,226.30V235.30M111.90,228.20L117.10,233.40M111.90,233.40L117.10,228.20" stroke="#f00" stroke-width="1.1" fill="none"/><rect x="113.30" y="229.60" width="2.4" height="2.4" fill="#f00"/>
<path d="M113.00,234.40H122.00M117.50,229.90V238.90M114.90,231.80L120.10,237.00M114.90,237.00L120.10,231.80" stroke="#f00" stroke-width="1.1" fill="none"/><rect x="116.30" y="233.20" width="2.4" height="2.4" fill="#f00"/>
<path d="M111.20,238.70H120.20M115.70,234.20V243.20M113.10,236.10L118.30,241.30M113.10,241.30L118.30,236.10" stroke="#f00" stroke-width="1.1" fill="none"/><rect x="114.50" y="237.50" width="2.4" height="2.4" fill="#f00"/>
<path d="M107.50,241.00H116.50M112.00,236.50V245.50M109.40,238.40L114.60,243.60M109.40,243.60L114.60,238.40" stroke="#f00" stroke-width="1.1" fill="none"/><rect x="110.80" y="239.80" width="2.4" height="2.4" fill="#f00"/>
<path d="M114.20,241.00H123.20M118.70,236.50V245.50M116.10,238.40L121.30,243.60M116.10,243.60L121.30,238.40" stroke="#f00" stroke-width="1.1" fill="none"/><rect x="117.50" y="239.80" width="2.4" height="2.4" fill="#f00"/>
<path d="M117.80,237.50H126.80M122.30,233.00V242.00M119.70,234.90L124.90,240.10M119.70,240.10L124.90,234.90" stroke="#f00" stroke-width="1.1" fill="none"/><rect x="121.10" y="236.30" width="2.4" height="2.4" fill="#f00"/>
<path d="M116.50,243.50H125.50M121.00,239.00V248.00M118.40,240.90L123.60,246.10M118.40,246.10L123.60,240.90" stroke="#f00" stroke-width="1.1" fill="none"/><rect x="119.80" y="242.30" width="2.4" height="2.4" fill="#f00"/>
<path d="M88.30,220.60H97.30M92.80,216.10V225.10M90.20,218.00L95.40,223.20M90.20,223.20L95.40,218.00" stroke="#f00" stroke-width="1.1" fill="none"/><rect x="91.60" y="219.40" width="2.4" height="2.4" fill="#f00"/>
<path d="M91.30,224.20H100.30M95.80,219.70V228.70M93.20,221.60L98.40,226.80M93.20,226.80L98.40,221.60" stroke="#f00" stroke-width="1.1" fill="none"/><rect x="94.60" y="223.00" width="2.4" height="2.4" fill="#f00"/>
<path d="M94.30,227.20H103.30M98.80,222.70V231.70M96.20,224.60L101.40,229.80M96.20,229.80L101.40,224.60" stroke="#f00" stroke-width="1.1" fill="none"/><rect x="97.60" y="226.00" width="2.4" height="2.4" fill="#f00"/>
<path d="M89.50,229.00H98.50M94.00,224.50V233.50M91.40,226.40L96.60,231.60M91.40,231.60L96.60,226.40" stroke="#f00" stroke-width="1.1" fill="none"/><rect x="92.80" y="227.80" width="2.4" height="2.4" fill="#f00"/>
<path d="M97.30,223.00H106.30M101.80,218.50V227.50M99.20,220.40L104.40,225.60M99.20,225.60L104.40,220.40" stroke="#f00" stroke-width="1.1" fill="none"/><rect x="100.60" y="221.80" width="2.4" height="2.4" fill="#f00"/>
<path d="M83.50,217.00H92.50M88.00,212.50V221.50M85.40,214.40L90.60,219.60M85.40,219.60L90.60,214.40" stroke="#f00" stroke-width="1.1" fill="none"/><rect x="86.80" y="215.80" width="2.4" height="2.4" fill="#f00"/>
<path d="M78.70,212.20H87.70M83.20,207.70V216.70M80.60,209.60L85.80,214.80M80.60,214.80L85.80,209.60" stroke="#f00" stroke-width="1.1" fill="none"/><rect x="82.00" y="211.00" width="2.4" height="2.4" fill="#f00"/>
<path d="M112.90,232.20H121.90M117.40,227.70V236.70M114.80,229.60L120.00,234.80M114.80,234.80L120.00,229.60" stroke="#f00" stroke-width="1.1" fill="none"/><rect x="116.20" y="231.00" width="2.4" height="2.4" fill="#f00"/>
<path d="M114.10,237.00H123.10M118.60,232.50V241.50M116.00,234.40L121.20,239.60M116.00,239.60L121.20,234.40" stroke="#f00" stroke-width="1.1" fill="none"/><rect x="117.40" y="235.80" width="2.4" height="2.4" fill="#f00"/>
<path d="M117.70,245.40H126.70M122.20,240.90V249.90M119.60,242.80L124.80,248.00M119.60,248.00L124.80,242.80" stroke="#f00" stroke-width="1.1" fill="none"/><rect x="121.00" y="244.20" width="2.4" height="2.4" fill="#f00"/>
<path d="M116.50,240.60H125.50M121.00,236.10V245.10M118.40,238.00L123.60,243.20M118.40,243.20L123.60,238.00" stroke="#f00" stroke-width="1.1" fill="none"/><rect x="119.80" y="239.40" width="2.4" height="2.4" fill="#f00"/>
<path d="M121.30,241.80H130.30M125.80,237.30V246.30M123.20,239.20L128.40,244.40M123.20,244.40L128.40,239.20" stroke="#f00" stroke-width="1.1" fill="none"/><rect x="124.60" y="240.60" width="2.4" height="2.4" fill="#f00"/>
<path d="M122.50,250.20H131.50M127.00,245.70V254.70M124.40,247.60L129.60,252.80M124.40,252.80L129.60,247.60" stroke="#f00" stroke-width="1.1" fill="none"/><rect x="125.80" y="249.00" width="2.4" height="2.4" fill="#f00"/>
<path d="M128.50,246.60H137.50M133.00,242.10V251.10M130.40,244.00L135.60,249.20M130.40,249.20L135.60,244.00" stroke="#f00" stroke-width="1.1" fill="none"/><rect x="131.80" y="245.40" width="2.4" height="2.4" fill="#f00"/>
<path d="M128.50,253.80H137.50M133.00,249.30V258.30M130.40,251.20L135.60,256.40M130.40,256.40L135.60,251.20" stroke="#f00" stroke-width="1.1" fill="none"/><rect x="131.80" y="252.60" width="2.4" height="2.4" fill="#f00"/>
<path d="M132.10,256.90H141.10M136.60,252.40V261.40M134.00,254.30L139.20,259.50M134.00,259.50L139.20,254.30" stroke="#f00" stroke-width="1.1" fill="none"/><rect x="135.40" y="255.70" width="2.4" height="2.4" fill="#f00"/>
<path d="M136.30,255.70H145.30M140.80,251.20V260.20M138.20,253.10L143.40,258.30M138.20,258.30L143.40,253.10" stroke="#f00" stroke-width="1.1" fill="none"/><rect x="139.60" y="254.50" width="2.4" height="2.4" fill="#f00"/>
<path d="M130.30,259.90H139.30M134.80,255.40V264.40M132.20,257.30L137.40,262.50M132.20,262.50L137.40,257.30" stroke="#f00" stroke-width="1.1" fill="none"/><rect x="133.60" y="258.70" width="2.4" height="2.4" fill="#f00"/>
<path d="M126.10,243.00H135.10M130.60,238.50V247.50M128.00,240.40L133.20,245.60M128.00,245.60L133.20,240.40" stroke="#f00" stroke-width="1.1" fill="none"/><rect x="129.40" y="241.80" width="2.4" height="2.4" fill="#f00"/>
<path d="M132.70,240.00H141.70M137.20,235.50V244.50M134.60,237.40L139.80,242.60M134.60,242.60L139.80,237.40" stroke="#f00" stroke-width="1.1" fill="none"/><rect x="136.00" y="238.80" width="2.4" height="2.4" fill="#f00"/>
<path d="M136.30,244.80H145.30M140.80,240.30V249.30M138.20,242.20L143.40,247.40M138.20,247.40L143.40,242.20" stroke="#f00" stroke-width="1.1" fill="none"/><rect x="139.60" y="243.60" width="2.4" height="2.4" fill="#f00"/>
<path d="M137.50,244.00H146.50M142.00,239.50V248.50M139.40,241.40L144.60,246.60M139.40,246.60L144.60,241.40" stroke="#f00" stroke-width="1.1" fill="none"/><rect x="140.80" y="242.80" width="2.4" height="2.4" fill="#f00"/>
<path d="M143.50,251.10H152.50M148.00,246.60V255.60M145.40,248.50L150.60,253.70M145.40,253.70L150.60,248.50" stroke="#f00" stroke-width="1.1" fill="none"/><rect x="146.80" y="249.90" width="2.4" height="2.4" fill="#f00"/>
<path d="M137.50,255.10H146.50M142.00,250.60V259.60M139.40,252.50L144.60,257.70M139.40,257.70L144.60,252.50" stroke="#f00" stroke-width="1.1" fill="none"/><rect x="140.80" y="253.90" width="2.4" height="2.4" fill="#f00"/>
<path d="M140.50,252.00H149.50M145.00,247.50V256.50M142.40,249.40L147.60,254.60M142.40,254.60L147.60,249.40" stroke="#f00" stroke-width="1.1" fill="none"/><rect x="143.80" y="250.80" width="2.4" height="2.4" fill="#f00"/>
<path d="M157.60,260.50H166.60M162.10,256.00V265.00M159.50,257.90L164.70,263.10M159.50,263.10L164.70,257.90" stroke="#f00" stroke-width="1.1" fill="none"/><rect x="160.90" y="259.30" width="2.4" height="2.4" fill="#f00"/>
<path d="M146.50,263.70H155.50M151.00,259.20V268.20M148.40,261.10L153.60,266.30M148.40,266.30L153.60,261.10" stroke="#f00" stroke-width="1.1" fill="none"/><rect x="149.80" y="262.50" width="2.4" height="2.4" fill="#f00"/>
<path d="M173.10,268.50H182.10M177.60,264.00V273.00M175.00,265.90L180.20,271.10M175.00,271.10L180.20,265.90" stroke="#f00" stroke-width="1.1" fill="none"/><rect x="176.40" y="267.30" width="2.4" height="2.4" fill="#f00"/>
<path d="M211.80,274.60H220.80M216.30,270.10V279.10M213.70,272.00L218.90,277.20M213.70,277.20L218.90,272.00" stroke="#f00" stroke-width="1.1" fill="none"/><rect x="215.10" y="273.40" width="2.4" height="2.4" fill="#f00"/>
<path d="M213.40,274.60H222.40M217.90,270.10V279.10M215.30,272.00L220.50,277.20M215.30,277.20L220.50,272.00" stroke="#f00" stroke-width="1.1" fill="none"/><rect x="216.70" y="273.40" width="2.4" height="2.4" fill="#f00"/>
<rect x="55.3" y="10.5" width="415.0" height="364.0" fill="none" stroke="#000" stroke-width="1.1"/>
<text x="57.30" y="389.9" font-size="12.6" text-anchor="middle">0</text>
<path d="M96.50,374.5V369.6M96.50,10.5V15.4" stroke="#000" stroke-width="1"/>
<text x="98.80" y="389.9" font-size="12.6" text-anchor="middle">0.1</text>
<path d="M137.50,374.5V369.6M137.50,10.5V15.4" stroke="#000" stroke-width="1"/>
<text x="140.30" y="389.9" font-size="12.6" text-anchor="middle">0.2</text>
<path d="M179.50,374.5V369.6M179.50,10.5V15.4" stroke="#000" stroke-width="1"/>
<text x="181.80" y="389.9" font-size="12.6" text-anchor="middle">0.3</text>
<path d="M220.50,374.5V369.6M220.50,10.5V15.4" stroke="#000" stroke-width="1"/>
<text x="223.30" y="389.9" font-size="12.6" text-anchor="middle">0.4</text>
<path d="M262.50,374.5V369.6M262.50,10.5V15.4" stroke="#000" stroke-width="1"/>
<text x="264.80" y="389.9" font-size="12.6" text-anchor="middle">0.5</text>
<path d="M303.50,374.5V369.6M303.50,10.5V15.4" stroke="#000" stroke-width="1"/>
<text x="306.30" y="389.9" font-size="12.6" text-anchor="middle">0.6</text>
<path d="M345.50,374.5V369.6M345.50,10.5V15.4" stroke="#000" stroke-width="1"/>
<text x="347.80" y="389.9" font-size="12.6" text-anchor="middle">0.7</text>
<path d="M386.50,374.5V369.6M386.50,10.5V15.4" stroke="#000" stroke-width="1"/>
<text x="389.30" y="389.9" font-size="12.6" text-anchor="middle">0.8</text>
<path d="M428.50,374.5V369.6M428.50,10.5V15.4" stroke="#000" stroke-width="1"/>
<text x="430.80" y="389.9" font-size="12.6" text-anchor="middle">0.9</text>
<text x="472.30" y="389.9" font-size="12.6" text-anchor="middle">1</text>
<text x="52" y="378.60" font-size="12.6" text-anchor="end">0</text>
<path d="M55.3,328.50H60.199999999999996M470.3,328.50H465.40000000000003" stroke="#000" stroke-width="1"/>
<text x="52" y="333.12" font-size="12.6" text-anchor="end">5</text>
<path d="M55.3,283.50H60.199999999999996M470.3,283.50H465.40000000000003" stroke="#000" stroke-width="1"/>
<text x="52" y="287.64" font-size="12.6" text-anchor="end">10</text>
<path d="M55.3,237.50H60.199999999999996M470.3,237.50H465.40000000000003" stroke="#000" stroke-width="1"/>
<text x="52" y="242.16" font-size="12.6" text-anchor="end">15</text>
<path d="M55.3,192.50H60.199999999999996M470.3,192.50H465.40000000000003" stroke="#000" stroke-width="1"/>
<text x="52" y="196.68" font-size="12.6" text-anchor="end">20</text>
<path d="M55.3,146.50H60.199999999999996M470.3,146.50H465.40000000000003" stroke="#000" stroke-width="1"/>
<text x="52" y="151.20" font-size="12.6" text-anchor="end">25</text>
<path d="M55.3,101.50H60.199999999999996M470.3,101.50H465.40000000000003" stroke="#000" stroke-width="1"/>
<text x="52" y="105.72" font-size="12.6" text-anchor="end">30</text>
<path d="M55.3,55.50H60.199999999999996M470.3,55.50H465.40000000000003" stroke="#000" stroke-width="1"/>
<text x="52" y="60.24" font-size="12.6" text-anchor="end">35</text>
<text x="52" y="14.76" font-size="12.6" text-anchor="end">40</text>
<text x="264" y="409.2" font-size="12.75" text-anchor="middle">Minimum Access Distance</text>
<g transform="translate(24,245.5) rotate(-90)" style="font-family:'Liberation Serif',serif"><text x="0" y="0" font-size="20" font-style="italic" style="font-family:'Liberation Serif',serif">R</text><text x="10.8" y="4.8" font-size="11.5" font-style="italic" style="font-family:'Liberation Serif',serif">k</text><text x="12.8" y="-8.8" font-size="11.5" font-style="italic" style="font-family:'Liberation Serif',serif">S</text><text x="25.8" y="0" font-size="20.2" style="font-family:'Liberation Serif',serif">(bit/s/Hz)</text></g>
<rect x="198.4" y="53.9" width="114.20000000000002" height="59.6" fill="#fff" stroke="#2a2a2a" stroke-width="0.9"/>
<text x="253.9" y="47.8" font-size="12.6" text-anchor="middle">CA</text>
<rect x="324.9" y="53.9" width="114.10000000000002" height="59.6" fill="#fff" stroke="#2a2a2a" stroke-width="0.9"/>
<text x="381.9" y="48.4" font-size="12.6" text-anchor="middle">DA</text>
<path d="M210.2,71.3H234.4" stroke="#00f" stroke-width="1.2" stroke-dasharray="9.3 5.6" fill="none"/>
<circle cx="223.5" cy="94.0" r="4" fill="none" stroke="#00f" stroke-width="1.2"/>
<text x="244.3" y="76.2" font-size="12.6">Eq. (28)</text>
<text x="244.3" y="98.9" font-size="12.6" letter-spacing="0.1">Simulation</text>
<path d="M337.3,71.5H364.3" stroke="#f00" stroke-width="2.1" stroke-linecap="round" stroke-dasharray="2.0 4.08" fill="none"/>
<path d="M345.40,93.30H354.40M349.90,88.80V97.80M347.30,90.70L352.50,95.90M347.30,95.90L352.50,90.70" stroke="#f00" stroke-width="1.1" fill="none"/><rect x="348.70" y="92.10" width="2.4" height="2.4" fill="#f00"/>
<text x="370.9" y="75.4" font-size="12.6">Eq. (35)</text>
<text x="369.1" y="98.4" font-size="12.6" letter-spacing="0.1">Simulation</text>
</svg></body></html>
